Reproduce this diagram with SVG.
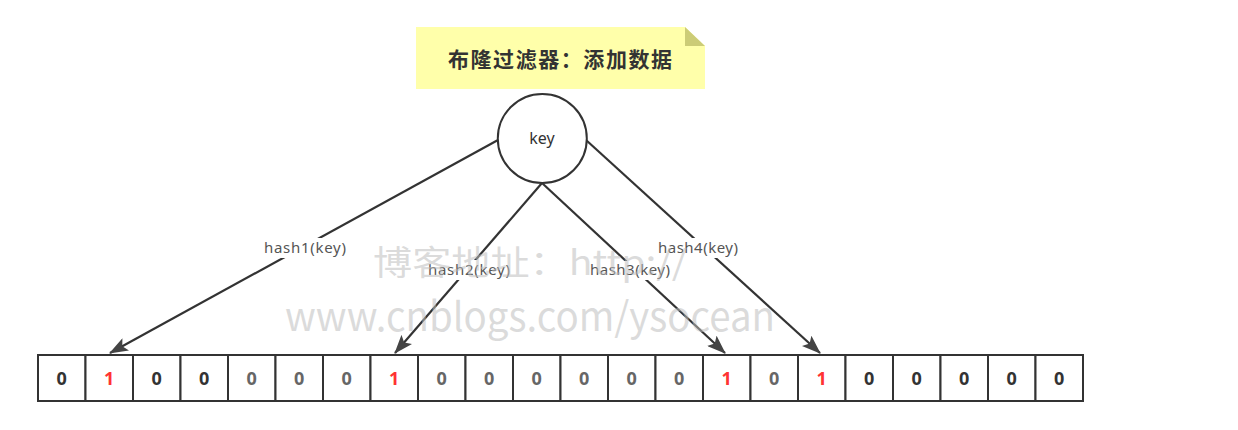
<svg xmlns="http://www.w3.org/2000/svg" width="1238" height="430" viewBox="0 0 1238 430">
<style>
.cell{fill:#fff;stroke:#333;stroke-width:2}
.d{font-family:"Open Sans","Liberation Sans",sans-serif;font-weight:bold;font-size:18px;text-anchor:middle;fill:#333}
.g{fill:#666}
.r{fill:#ff3333}
.edge{stroke:#333;stroke-width:2.2;fill:none}
.lbl{font-family:"Noto Sans","Open Sans",sans-serif;font-size:15px;fill:#555;text-anchor:middle}
.lbg{fill:#fff}
.wm{font-family:"Noto Sans CJK SC","Noto Sans",sans-serif;fill:#bdbdbd;fill-opacity:0.55}
</style>
<defs>
<marker id="arr" markerWidth="19" markerHeight="14" refX="18" refY="7" orient="auto" markerUnits="userSpaceOnUse">
<path d="M0,0 L19,7 L0,14 L4,7 z" fill="#444"/>
</marker>
</defs>
<rect width="1238" height="430" fill="#fff"/>
<g id="note">
<path d="M416,27 L685,27 L705,46 L705,89 L416,89 z" fill="#ffffaa"/>
<path d="M685,27 L685,46 L705,46 z" fill="#cccc77"/>
<text x="560" y="67" font-family="Noto Sans CJK SC,sans-serif" font-weight="bold" font-size="21" text-anchor="middle" fill="#333" textLength="224" lengthAdjust="spacing">布隆过滤器：添加数据</text>
</g>
<g id="connectors">
<line class="edge" x1="498" y1="140" x2="110" y2="353" marker-end="url(#arr)"/>
<line class="edge" x1="542" y1="183" x2="395" y2="353" marker-end="url(#arr)"/>
<line class="edge" x1="542" y1="183" x2="725" y2="353" marker-end="url(#arr)"/>
<line class="edge" x1="586" y1="140" x2="820" y2="353" marker-end="url(#arr)"/>
<rect class="lbg" x="263" y="238" width="84" height="20"/>
<text class="lbl" x="305" y="253" textLength="82">hash1(key)</text>
<rect class="lbg" x="427" y="260" width="84" height="20"/>
<text class="lbl" x="469" y="275" textLength="82">hash2(key)</text>
<rect class="lbg" x="589" y="261" width="82" height="19"/>
<text class="lbl" x="630" y="275" textLength="80">hash3(key)</text>
<rect class="lbg" x="657" y="238" width="82" height="20"/>
<text class="lbl" x="698" y="253" textLength="80">hash4(key)</text>
</g>
<g id="key">
<circle cx="542.3" cy="138.5" r="44.5" fill="#fff" stroke="#333" stroke-width="2"/>
<text x="542" y="144" font-family="Noto Sans,Open Sans,sans-serif" font-size="16" text-anchor="middle" fill="#333">key</text>
</g>
<g id="array">
<rect class="cell" x="38" y="355" width="47.5" height="46"/>
<rect class="cell" x="85.5" y="355" width="47.5" height="46"/>
<rect class="cell" x="133" y="355" width="47.5" height="46"/>
<rect class="cell" x="180.5" y="355" width="47.5" height="46"/>
<rect class="cell" x="228" y="355" width="47.5" height="46"/>
<rect class="cell" x="275.5" y="355" width="47.5" height="46"/>
<rect class="cell" x="323" y="355" width="47.5" height="46"/>
<rect class="cell" x="370.5" y="355" width="47.5" height="46"/>
<rect class="cell" x="418" y="355" width="47.5" height="46"/>
<rect class="cell" x="465.5" y="355" width="47.5" height="46"/>
<rect class="cell" x="513" y="355" width="47.5" height="46"/>
<rect class="cell" x="560.5" y="355" width="47.5" height="46"/>
<rect class="cell" x="608" y="355" width="47.5" height="46"/>
<rect class="cell" x="655.5" y="355" width="47.5" height="46"/>
<rect class="cell" x="703" y="355" width="47.5" height="46"/>
<rect class="cell" x="750.5" y="355" width="47.5" height="46"/>
<rect class="cell" x="798" y="355" width="47.5" height="46"/>
<rect class="cell" x="845.5" y="355" width="47.5" height="46"/>
<rect class="cell" x="893" y="355" width="47.5" height="46"/>
<rect class="cell" x="940.5" y="355" width="47.5" height="46"/>
<rect class="cell" x="988" y="355" width="47.5" height="46"/>
<rect class="cell" x="1035.5" y="355" width="47.5" height="46"/>
<text class="d" x="61.75" y="385">0</text>
<text class="d r" x="109.25" y="385">1</text>
<text class="d" x="156.75" y="385">0</text>
<text class="d" x="204.25" y="385">0</text>
<text class="d g" x="251.75" y="385">0</text>
<text class="d g" x="299.25" y="385">0</text>
<text class="d g" x="346.75" y="385">0</text>
<text class="d r" x="394.25" y="385">1</text>
<text class="d g" x="441.75" y="385">0</text>
<text class="d g" x="489.25" y="385">0</text>
<text class="d g" x="536.75" y="385">0</text>
<text class="d g" x="584.25" y="385">0</text>
<text class="d g" x="631.75" y="385">0</text>
<text class="d g" x="679.25" y="385">0</text>
<text class="d r" x="726.75" y="385">1</text>
<text class="d g" x="774.25" y="385">0</text>
<text class="d r" x="821.75" y="385">1</text>
<text class="d" x="869.25" y="385">0</text>
<text class="d" x="916.75" y="385">0</text>
<text class="d" x="964.25" y="385">0</text>
<text class="d" x="1011.75" y="385">0</text>
<text class="d" x="1059.25" y="385">0</text>
</g>
<g id="watermark">
<text class="wm" x="373" y="275" font-size="34" textLength="314" lengthAdjust="spacingAndGlyphs">博客地址：http://</text>
<text class="wm" x="285" y="331" font-size="40" textLength="490" lengthAdjust="spacingAndGlyphs">www.cnblogs.com/ysocean</text>
</g>
</svg>
